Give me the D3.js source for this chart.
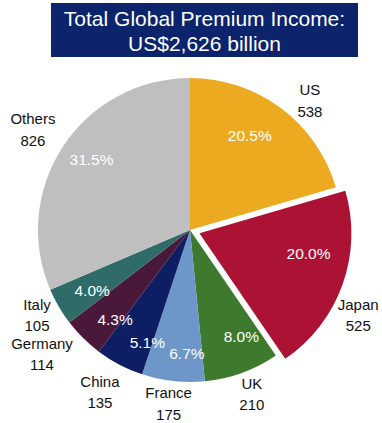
<!DOCTYPE html>
<html>
<head>
<meta charset="utf-8">
<script src="https://cdn.jsdelivr.net/npm/d3@7/dist/d3.min.js"></script>
<style>
  html, body { margin: 0; padding: 0; background: #ffffff; }
  svg { display: block; font-family: "Liberation Sans", Arial, sans-serif; }
</style>
</head>
<body>
<svg id="chart" width="382" height="423"></svg>
<script>
// Premium income by market, US$ billion (clockwise from 12 o'clock)
const markets = ["US", "Japan", "UK", "France", "China", "Germany", "Italy", "Others"];
const premiums = [538, 525, 210, 175, 135, 114, 105, 826];
const sharePct = ["20.5%", "20.0%", "8.0%", "6.7%", "5.1%", "4.3%", "4.0%", "31.5%"];
const titleLines = ["Total Global Premium Income:", "US$2,626 billion"];

const colors = {
  US: "#EBAA1F", Japan: "#AB1234", UK: "#3E7A2E", France: "#6C97C8",
  China: "#0D1E64", Germany: "#4A1838", Italy: "#2F6C69", Others: "#BFBFBF"
};
const exploded = "Japan";

const svg = d3.select("#chart");
const cx = 190, cy = 230, R = 152, explodeBy = 10;

// Title banner
const banner = svg.append("g");
banner.append("rect").attr("x", 51).attr("y", 3).attr("width", 307).attr("height", 54)
  .attr("fill", "#0B246B");
banner.selectAll("text").data(titleLines).join("text")
  .attr("x", 204.5).attr("y", (d, i) => 26 + i * 25)
  .attr("text-anchor", "middle").attr("fill", "#ffffff")
  .attr("font-size", 21).text(d => d);

const data = markets.map((m, i) => ({ name: m, value: premiums[i], pct: sharePct[i] }));
const pie = d3.pie().value(d => d.value).sort(null);
const arcs = pie(data);
const arc = d3.arc().innerRadius(0).outerRadius(R);

const mid = a => (a.startAngle + a.endAngle) / 2;
const offsetOf = a => a.data.name === exploded
  ? [explodeBy * Math.sin(mid(a)), -explodeBy * Math.cos(mid(a))] : [0, 0];
const polar = (a, r) => [r * Math.sin(mid(a)), -r * Math.cos(mid(a))];

const g = svg.append("g").attr("transform", `translate(${cx},${cy})`);

g.selectAll("path.slice").data(arcs).join("path")
  .attr("class", "slice")
  .attr("d", arc)
  .attr("fill", d => colors[d.data.name])
  .attr("transform", d => `translate(${offsetOf(d)})`);

// Percentage labels inside slices (small layout nudges for readability)
const pctNudge = {
  US: [-11, 0], Japan: [-2, -20], UK: [11, -4], France: [10, 6],
  China: [12, 8], Germany: [8, 6], Italy: [4, 1], Others: [0, -6]
};
g.selectAll("text.pct").data(arcs).join("text")
  .attr("class", "pct")
  .attr("x", d => polar(d, 118)[0] + offsetOf(d)[0] + pctNudge[d.data.name][0])
  .attr("y", d => polar(d, 118)[1] + offsetOf(d)[1] + pctNudge[d.data.name][1] + 5.5)
  .attr("text-anchor", "middle").attr("fill", "#ffffff")
  .attr("font-size", 15.5).text(d => d.data.pct);

// Market name and value outside the pie
const outNudge = {
  US: [15, 11], Japan: [-6, 23], UK: [2, 0], France: [-2, 0],
  China: [-9, 7], Germany: [-25, 0], Italy: [-2, -3], Others: [-11, -4]
};
const outer = g.selectAll("g.outer").data(arcs).join("g")
  .attr("class", "outer")
  .attr("transform", d => {
    const p = polar(d, 175), o = offsetOf(d), n = outNudge[d.data.name];
    return `translate(${p[0] + o[0] + n[0]},${p[1] + o[1] + n[1]})`;
  });
outer.append("text").attr("y", -5.5).attr("text-anchor", "middle")
  .attr("fill", "#111111").attr("font-size", 15).text(d => d.data.name);
outer.append("text").attr("y", 16).attr("text-anchor", "middle")
  .attr("fill", "#111111").attr("font-size", 15).text(d => d.data.value);
</script>
</body>
</html>
